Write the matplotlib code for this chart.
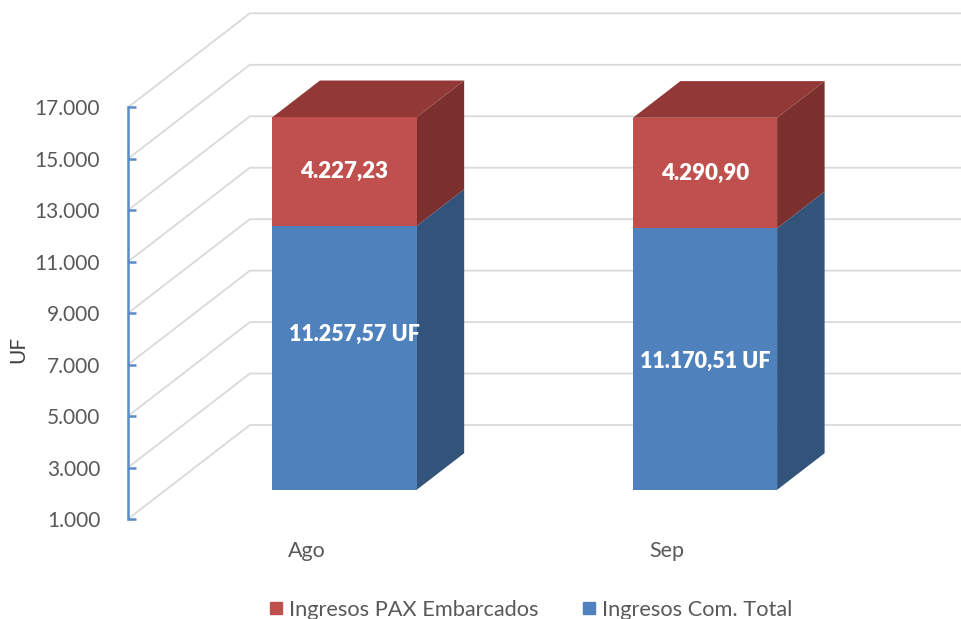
import matplotlib.pyplot as plt
from matplotlib.patches import Polygon
from matplotlib.lines import Line2D

plt.rcParams['font.family'] = ['Lato', 'DejaVu Sans']

# data
categories = ['Ago', 'Sep']
com_total = [11257.57, 11170.51]
pax_embarcados = [4227.23, 4290.90]
com_labels = ['11.257,57 UF', '11.170,51 UF']
pax_labels = ['4.227,23', '4.290,90']
com_label_pos = [7024, 5986]      # label heights as placed in the original
yticks = list(range(1000, 17001, 2000))
ytick_labels = ['{:,}'.format(t).replace(',', '.') for t in yticks]

# fake 3d geometry (depth 0 = axis plane, depth 1 = back wall)
DX = 0.338          # x shift for full depth (category units)
DV = 3653           # value shift for full depth (UF units)
D0, D1 = 0.31, 0.70  # bar front/back depth
W = 0.40
YMIN = 1000
XL, XR = -0.496, 1.815

blue_front, blue_side = '#4F81BD', '#32537A'
red_front, red_side, red_top = '#C0504D', '#7B302E', '#923937'


def proj(x, v, d):
    return (x + d * DX, v + d * DV)


fig = plt.figure(figsize=(9.61, 6.19), dpi=100)
ax = fig.add_axes([128 / 961, 100 / 619, 833 / 961, 519 / 619])
ax.set_xlim(XL, XR)
ax.set_ylim(YMIN, YMIN + 519 / 0.02573)

# gridlines: front diagonal then along back wall
for t in yticks:
    pts = [proj(XL, t, 0), proj(XL, t, 1), (XR, t + DV)]
    ax.plot([p[0] for p in pts], [p[1] for p in pts], color='#D9D9D9',
            lw=1.3, zorder=1, clip_on=False)


def box(xc, v0, v1, front, side, top=None):
    xl, xr = xc - W / 2, xc + W / 2
    ax.add_patch(Polygon([proj(xr, v0, D0), proj(xr, v0, D1), proj(xr, v1, D1), proj(xr, v1, D0)],
                         closed=True, fc=side, ec='none', zorder=2))
    if top is not None:
        ax.add_patch(Polygon([proj(xl, v1, D0), proj(xr, v1, D0), proj(xr, v1, D1), proj(xl, v1, D1)],
                             closed=True, fc=top, ec='none', zorder=2))
    ax.add_patch(Polygon([proj(xl, v0, D0), proj(xr, v0, D0), proj(xr, v1, D0), proj(xl, v1, D0)],
                         closed=True, fc=front, ec='none', zorder=3))


for i in range(len(categories)):
    b = com_total[i]
    r = pax_embarcados[i]
    box(i, YMIN, b, blue_front, blue_side)
    box(i, b, b + r, red_front, red_side, red_top)
    lx = proj(i, 0, D0)[0]
    ax.text(lx + (0.027 if i == 0 else 0), com_label_pos[i] + D0 * DV, com_labels[i],
            ha='center', va='center', color='white', fontsize=15.5, fontweight='heavy', zorder=4)
    ax.text(lx, b + r / 2 + D0 * DV, pax_labels[i],
            ha='center', va='center', color='white', fontsize=16, fontweight='heavy', zorder=4)

# axes styling
for s in ['top', 'right', 'bottom']:
    ax.spines[s].set_visible(False)
ax.spines['left'].set_bounds(yticks[0], yticks[-1])
ax.spines['left'].set_color('#5B8BC8')
ax.spines['left'].set_linewidth(1.8)
ax.set_yticks(yticks)
ax.set_yticklabels(ytick_labels)
ax.tick_params(axis='y', direction='in', length=6, width=1.8, color='#5B8BC8',
               labelsize=15, labelcolor='#595959', pad=20)
ax.set_xticks(range(len(categories)))
ax.set_xticklabels(categories)
ax.tick_params(axis='x', length=0, labelsize=15.5, labelcolor='#595959', pad=16)
ax.set_ylabel('UF', fontsize=15, color='#404040')
ax.yaxis.set_label_coords(-100 / 833, (519 - 349) / 519)

handles = [Line2D([], [], ls='none', marker='s', ms=9, color=red_front),
           Line2D([], [], ls='none', marker='s', ms=9, color=blue_front)]
fig.legend(handles, ['Ingresos PAX Embarcados', 'Ingresos Com. Total'],
           loc='center', bbox_to_anchor=(531 / 961, 1 - 610 / 619), ncol=2,
           frameon=False, fontsize=15.7, labelcolor='#595959',
           handlelength=0.6, handletextpad=0.3, columnspacing=2.0)

fig.savefig('out.png', dpi=100)
